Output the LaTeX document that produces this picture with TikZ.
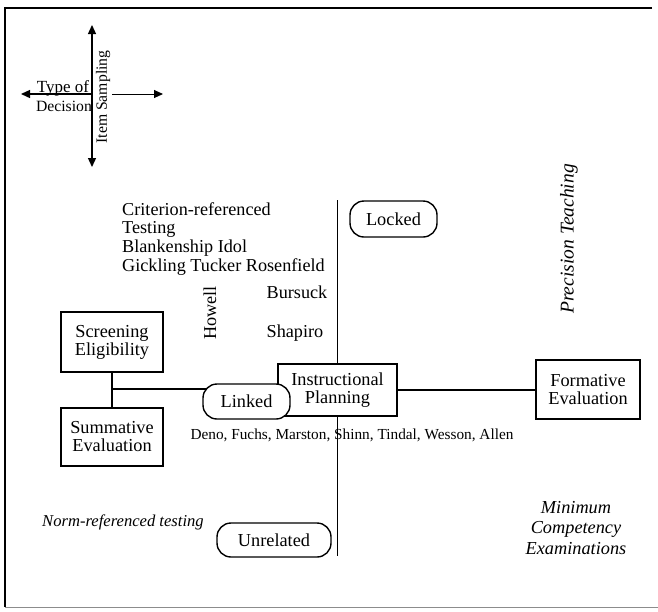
\documentclass[tikz,border=0pt]{standalone}
\usepackage{fontspec}
\setmainfont{Liberation Serif}
\usetikzlibrary{arrows.meta,backgrounds}
\begin{document}
\begin{tikzpicture}[x=1pt,y=-1pt,
  lw/.style={line width=1.4pt},
  box/.style={draw, lw, align=center, inner sep=0pt, font=\fontsize{18.3}{18}\selectfont},
  pill/.style={draw, lw, rounded corners=14pt, fill=white, inner sep=0pt, font=\fontsize{18.3}{18}\selectfont},
  lbl/.style={inner sep=0pt, font=\fontsize{18.2}{19.5}\selectfont},
  itl/.style={inner sep=0pt, font=\fontsize{16.6}{20.5}\selectfont\itshape},
  small/.style={inner sep=0pt, font=\fontsize{15.7}{17}\selectfont},
  arr/.style={line width=1.3pt, -{Triangle[length=9pt,width=8pt]}}]
\useasboundingbox (0,0) rectangle (658,611);
% frame
\draw[line width=1.5pt] (652,8) -- (5,8) -- (5,607);
\draw[line width=1pt, black!45] (5,607) -- (658,607);

% small axis cross
\coordinate (ct) at (92,25);
\coordinate (cb) at (92,167);
\coordinate (cc) at (92,94);
\coordinate (cl) at (21,94);
\coordinate (cm) at (112,94);
\coordinate (cr) at (163,94);
\draw[arr] (cc) -- (ct);
\draw[arr] (cc) -- (cb);
\draw[arr] (cc) -- (cl);
\draw[arr, line width=1pt] (cm) -- (cr);
\node[small, font=\fontsize{17}{17}\selectfont] (type) at (63,88) {Type of};
\node[small] (dec) at (64,106) {Decision};
\node[small, rotate=90, fill=white, inner sep=1pt] (item) at (103,97) {Item Sampling};

% boxes
\node[box, minimum width=102pt, minimum height=60pt] (se) at (112,342) {Screening\\Eligibility};
\node[box, minimum width=102pt, minimum height=58pt] (sum) at (112,437) {Summative\\Evaluation};
\node[box, minimum width=119pt, minimum height=52pt] (ip) at (337.5,390) {Instructional\\Planning};
\node[box, minimum width=104pt, minimum height=59pt] (fe) at (588,389.5) {Formative\\Evaluation};
\node[pill, minimum width=87pt, minimum height=35pt] (linked) at (246.5,401.5) {Linked};
\node[pill, minimum width=87pt, minimum height=36pt] (locked) at (393.5,219) {Locked};
\node[pill, minimum width=114pt, minimum height=34pt] (unrel) at (274,540) {Unrelated};

% connectors
\coordinate (vtop) at (337.5,200);
\coordinate (vbot) at (337.5,556);
\coordinate (j) at (112,389);
\draw[line width=1.6pt] (vtop) -- (ip.north);
\draw[line width=1.6pt] (ip.south) -- (vbot);
\draw[lw] (se.south) -- (sum.north);
\draw[lw] (ip.east) -- (ip.east -| fe.west);
\begin{scope}[on background layer]
\draw[lw] (j) -- (j -| linked.center);
\end{scope}

% labels
\node[lbl, anchor=west] (c1) at (122,209) {Criterion-referenced};
\node[lbl, anchor=west] (c2) at (122,229) {Testing};
\node[lbl, anchor=west] (c3) at (122,248) {Blankenship Idol};
\node[lbl, anchor=west] (c4) at (122,267) {Gickling Tucker Rosenfield};
\node[lbl, rotate=90] (howell) at (210,313) {Howell};
\node[lbl] (bursuck) at (297,292) {Bursuck};
\node[lbl] (shapiro) at (295,333) {Shapiro};
\node[lbl, font=\fontsize{15.3}{18}\selectfont] (deno) at (352,435) {Deno, Fuchs, Marston, Shinn, Tindal, Wesson, Allen};
\node[itl, rotate=90, font=\fontsize{19.5}{20}\selectfont\itshape] (prec) at (569,239) {Precision Teaching};
\node[itl] (norm) at (123,522) {Norm-referenced testing};
\node[itl, align=center, font=\fontsize{18.3}{20.5}\selectfont\itshape] (mce) at (576,528) {Minimum\\Competency\\Examinations};
\end{tikzpicture}
\end{document}
